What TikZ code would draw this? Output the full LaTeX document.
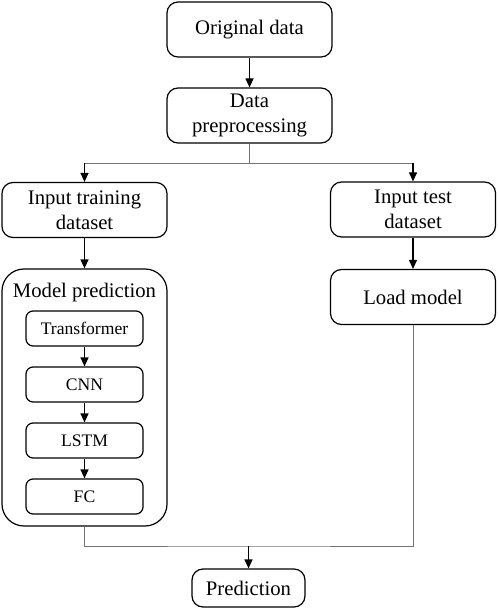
\documentclass[tikz,border=0pt]{standalone}
\usepackage{fontspec}
\setmainfont{Liberation Serif}
\usetikzlibrary{arrows.meta}

\tikzset{
  box/.style = {draw, line width=1.2pt, rounded corners=11pt, minimum width=165pt,
                minimum height=55pt, inner sep=0pt, align=center,
                font=\fontsize{20.7}{25}\selectfont},
  smallbox/.style = {draw, line width=1.2pt, rounded corners=7pt, minimum width=117pt,
                minimum height=35pt, inner sep=0pt, font=\fontsize{17.6}{21}\selectfont},
  arr/.style = {line width=1.2pt, -{Triangle[length=9pt,width=8pt]}},
  link/.style = {line width=0.9pt, black!55}
}

\begin{document}
\begin{tikzpicture}[x=1pt, y=-1pt]
            \useasboundingbox (0,0) rectangle (498,609);
            % top part
            \node[box] (orig) at (249.5,29.5) {Original data};
            \node[box] (prep) at (249.5,115.5) {Data\\preprocessing};
            \node[box] (train) at (84.5,210) {Input training\\dataset};
            \node[box] (test) at (413,209.5) {Input test\\dataset};
            \node[box] (load) at (413,297) {Load model};
            % model block
            \node[box, rounded corners=22pt, minimum height=257pt] (model) at (84.5,397.5) {};
            \node[font=\fontsize{20.7}{25}\selectfont] (title) at (84.5,293) {Model prediction};
            \node[smallbox] (trans) at (84.5,328.5) {Transformer};
            \node[smallbox] (cnn) at (84.5,384.5) {CNN};
            \node[smallbox] (lstm) at (84.5,440.5) {LSTM};
            \node[smallbox] (fc) at (84.5,496.5) {FC};
            \node[box, minimum width=113pt, minimum height=38pt] (pred) at (248.5,588) {Prediction};
            % connectors
            \coordinate (split) at (249.5,163);
            \coordinate (splitl) at (train.north |- split);
            \coordinate (splitr) at (test.north |- split);
            \coordinate (join) at (248.5,546);
            \draw[arr] (orig) -- (prep);
            \draw[link] (prep) -- (split);
            \draw[link] (splitl) -- (splitr);
            \draw[arr] (splitl) -- (train);
            \draw[arr] (splitr) -- (test);
            \draw[arr] (train) -- (model);
            \draw[arr] (test) -- (load);
            \draw[arr] (trans) -- (cnn);
            \draw[arr] (cnn) -- (lstm);
            \draw[arr] (lstm) -- (fc);
            \draw[link] (model.south) |- (join) -| (load.south);
            \draw[arr] (join) -- (pred);
        \end{tikzpicture}
\end{document}
